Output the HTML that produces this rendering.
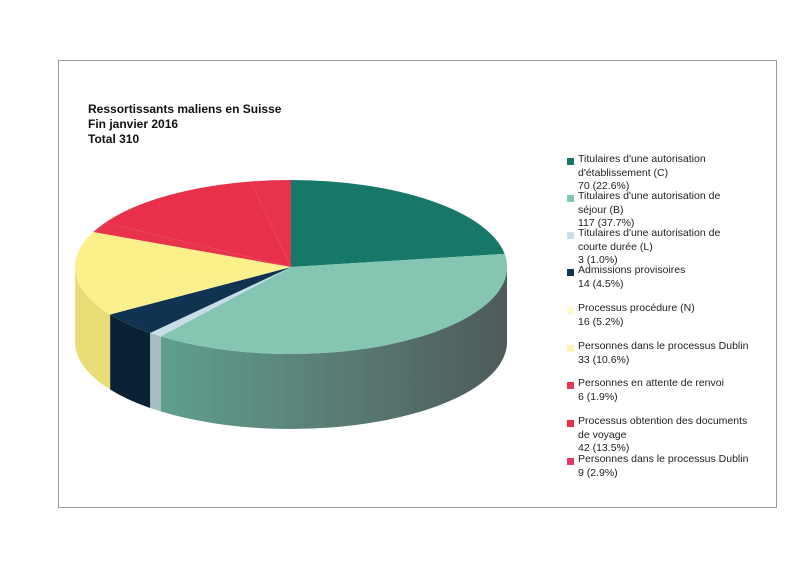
<!DOCTYPE html>
<html><head><meta charset="utf-8"><style>
body{margin:0;background:#fff;width:800px;height:567px;overflow:hidden;position:relative;font-family:"Liberation Sans",sans-serif;color:#222}
.frame{position:absolute;left:58px;top:60px;width:719px;height:448px;border:1px solid #9a9a9a;box-sizing:border-box}
.t{position:absolute;left:88px;font-weight:bold;font-size:12px;color:#111}
.l{position:absolute;left:578px;font-size:10.5px;line-height:13.6px;color:#222;white-space:nowrap}
.sq{position:absolute;left:567px;width:7px;height:7px}
</style></head><body>
<div class="frame"></div>
<div class="t" style="top:102px">Ressortissants maliens en Suisse</div>
<div class="t" style="top:117px">Fin janvier 2016</div>
<div class="t" style="top:132px">Total 310</div>
<svg width="800" height="567" style="position:absolute;left:0;top:0">
<defs>
<linearGradient id="g1" x1="0" x2="1" y1="0" y2="0">
<stop offset="0" stop-color="#5f9f8e"/><stop offset="0.5" stop-color="#5a7d76"/><stop offset="1" stop-color="#4e5a5a"/></linearGradient>
</defs>
<g>
<path d="M507,267 A216,87 0 0 1 160.7,336.4 L160.7,411.4 A216,87 0 0 0 507,342 Z" fill="url(#g1)"/>
<path d="M160.7,336.4 A216,87 0 0 1 150.1,333 L150.1,408 A216,87 0 0 0 160.7,411.4 Z" fill="#a9bcc4"/>
<path d="M150.1,333 A216,87 0 0 1 110.1,314.5 L110.1,389.5 A216,87 0 0 0 150.1,408 Z" fill="#0b2234"/>
<path d="M110.1,314.5 A216,87 0 0 1 75,267 L75,342 A216,87 0 0 0 110.1,389.5 Z" fill="#e9dd78"/>
<path d="M291,267 L291,180 A216,87 0 0 1 504.6,253.9 Z" fill="#17786a"/>
<path d="M291,267 L504.6,253.9 A216,87 0 0 1 160.7,336.4 Z" fill="#84c6b2"/>
<path d="M291,267 L160.7,336.4 A216,87 0 0 1 150.1,333 Z" fill="#c9dde6"/>
<path d="M291,267 L150.1,333 A216,87 0 0 1 110.1,314.5 Z" fill="#0f3350"/>
<path d="M291,267 L110.1,314.5 A216,87 0 0 1 81.8,288.6 Z" fill="#fbf08e"/>
<path d="M291,267 L81.8,288.6 A216,87 0 0 1 93.3,232 Z" fill="#fbf08a"/>
<path d="M291,267 L93.3,232 A216,87 0 0 1 105.1,222.7 Z" fill="#e8334c"/>
<path d="M291,267 L105.1,222.7 A216,87 0 0 1 250.5,181.5 Z" fill="#e8304a"/>
<path d="M291,267 L250.5,181.5 A216,87 0 0 1 291,180 Z" fill="#e8334e"/>
</g>
</svg>
<div class="sq" style="top:158px;background:#17786a"></div>
<div class="l" style="top:153px">Titulaires d'une autorisation<br>d'établissement (C)<br>70 (22.6%)</div>
<div class="sq" style="top:195px;background:#84c6b2"></div>
<div class="l" style="top:190px">Titulaires d'une autorisation de<br>séjour (B)<br>117 (37.7%)</div>
<div class="sq" style="top:232px;background:#c9dde6"></div>
<div class="l" style="top:227px">Titulaires d'une autorisation de<br>courte durée (L)<br>3 (1.0%)</div>
<div class="sq" style="top:269px;background:#0f3350"></div>
<div class="l" style="top:264px">Admissions provisoires<br>14 (4.5%)</div>
<div class="sq" style="top:307px;background:#fdf8d0"></div>
<div class="l" style="top:302px">Processus procédure (N)<br>16 (5.2%)</div>
<div class="sq" style="top:345px;background:#fbf3b0"></div>
<div class="l" style="top:340px">Personnes dans le processus Dublin<br>33 (10.6%)</div>
<div class="sq" style="top:382px;background:#e83a52"></div>
<div class="l" style="top:377px">Personnes en attente de renvoi<br>6 (1.9%)</div>
<div class="sq" style="top:420px;background:#e8304a"></div>
<div class="l" style="top:415px">Processus obtention des documents<br>de voyage<br>42 (13.5%)</div>
<div class="sq" style="top:458px;background:#e63a65"></div>
<div class="l" style="top:453px">Personnes dans le processus Dublin<br>9 (2.9%)</div>
</body></html>
